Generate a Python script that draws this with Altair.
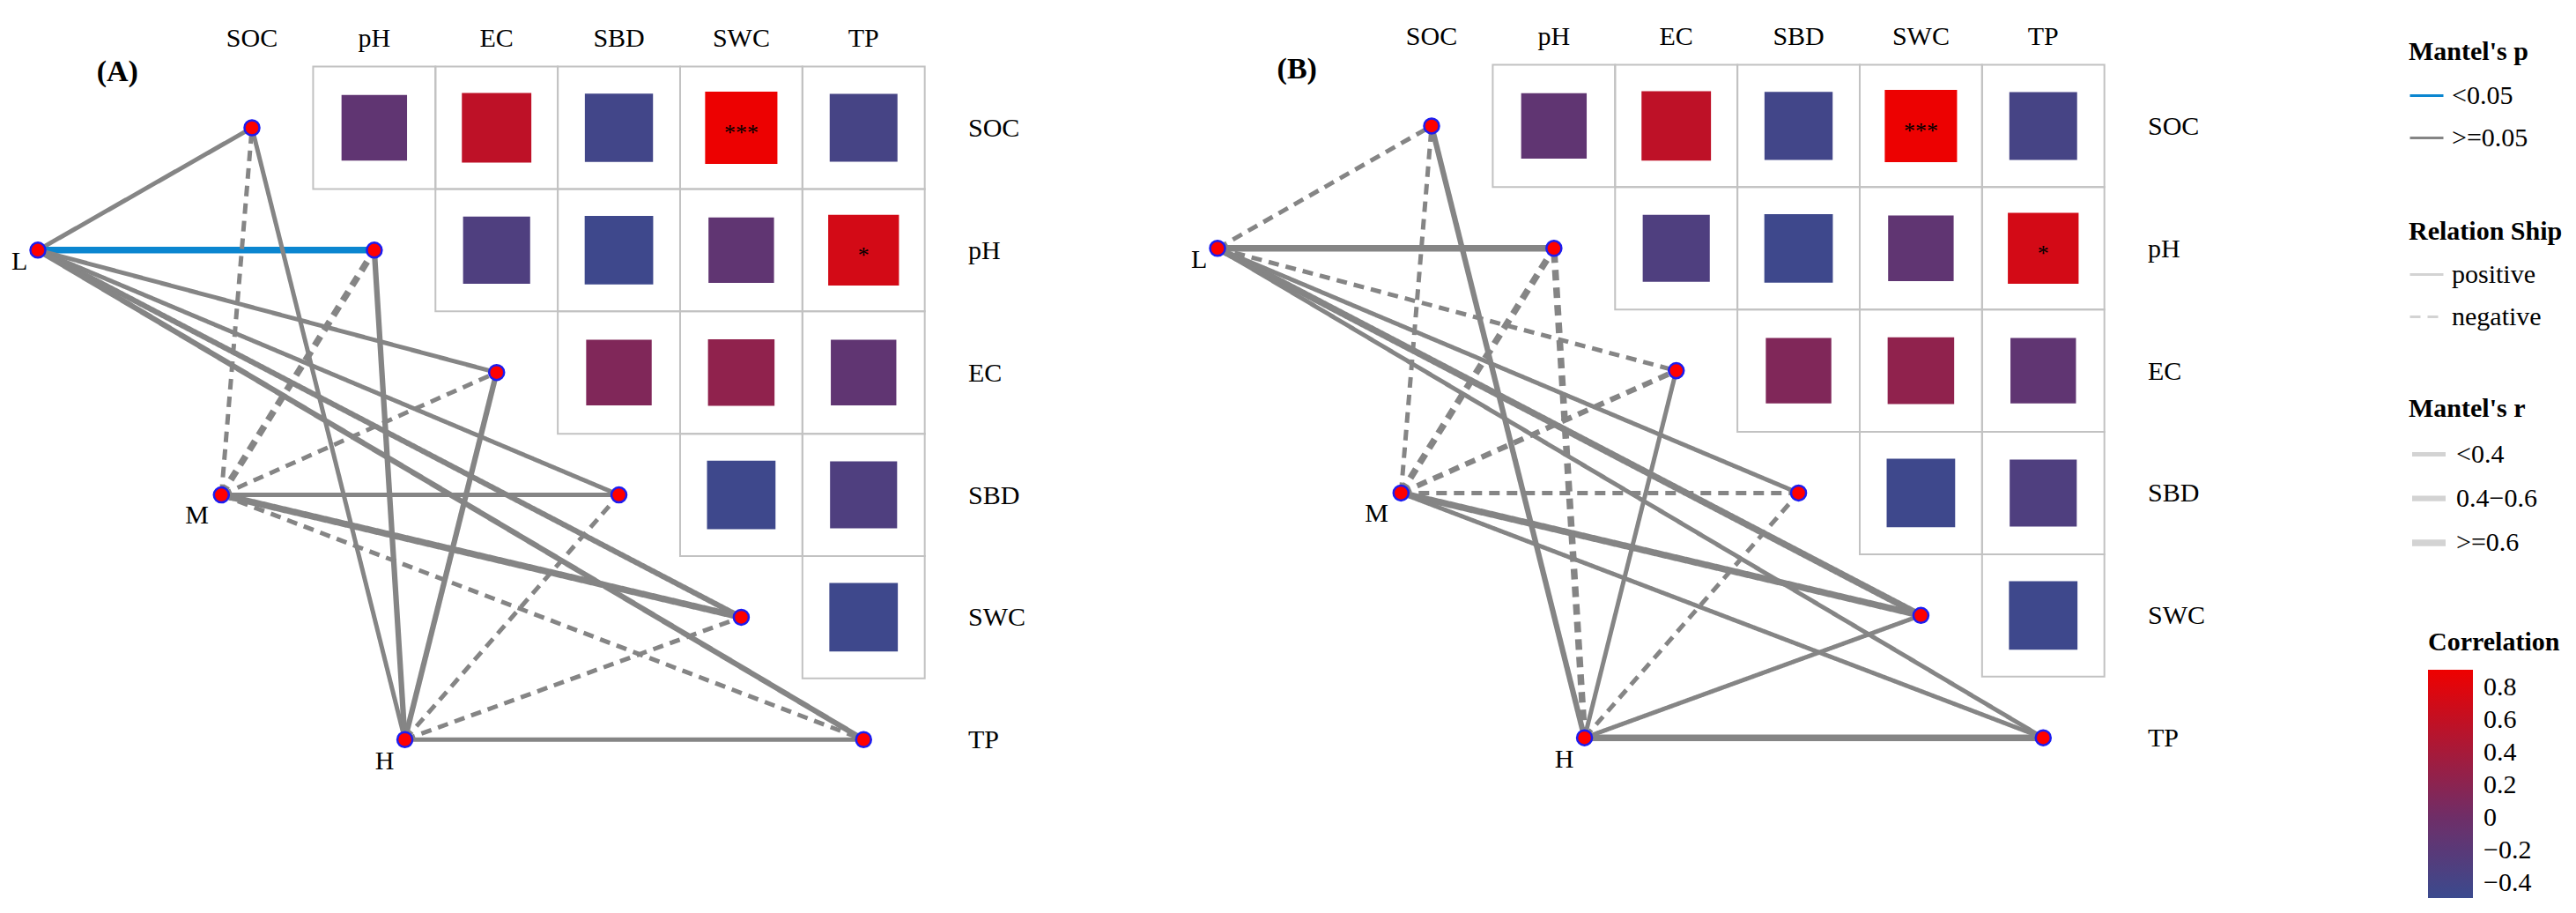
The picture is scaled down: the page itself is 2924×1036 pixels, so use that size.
import altair as alt
import pandas as pd

# ---------------- data ----------------
env_vars = ["SOC", "pH", "EC", "SBD", "SWC", "TP"]
groups = ["L", "M", "H"]
panel_tags = ["(A)", "(B)"]

# correlation between soil properties (upper triangle), same in both panels
corr_row = ["SOC", "SOC", "SOC", "SOC", "SOC", "pH", "pH", "pH", "pH",
            "EC", "EC", "EC", "SBD", "SBD", "SWC"]
corr_col = ["pH", "EC", "SBD", "SWC", "TP", "EC", "SBD", "SWC", "TP",
            "SBD", "SWC", "TP", "SWC", "TP", "TP"]
corr_r = [-0.13, 0.57, -0.42, 0.90, -0.38, -0.30, -0.46, -0.13, 0.72,
          0.13, 0.24, -0.13, -0.46, -0.30, -0.46]
corr_sig = ["", "", "", "***", "", "", "", "", "*", "", "", "", "", "", ""]

# Mantel links: group x soil property
edge_group = ["L"] * 6 + ["M"] * 6 + ["H"] * 6
edge_env = env_vars * 3

a_sign = ["positive", "positive", "positive", "positive", "positive", "positive",
          "negative", "negative", "negative", "positive", "positive", "negative",
          "positive", "positive", "positive", "negative", "negative", "positive"]
a_rcls = ["<0.4", ">=0.6", "<0.4", "<0.4", "0.4\u22120.6", "0.4\u22120.6",
          "<0.4", ">=0.6", "<0.4", "<0.4", ">=0.6", "<0.4",
          "<0.4", "0.4\u22120.6", "0.4\u22120.6", "<0.4", "<0.4", "<0.4"]
a_pcls = [">=0.05", "<0.05"] + [">=0.05"] * 16

b_sign = ["negative", "positive", "negative", "positive", "positive", "positive",
          "negative", "negative", "negative", "negative", "positive", "positive",
          "positive", "negative", "positive", "negative", "positive", "positive"]
b_rcls = ["<0.4", ">=0.6", "<0.4", "<0.4", ">=0.6", "<0.4",
          "<0.4", ">=0.6", "0.4\u22120.6", "<0.4", ">=0.6", "<0.4",
          "0.4\u22120.6", ">=0.6", "<0.4", "<0.4", "<0.4", ">=0.6"]
b_pcls = [">=0.05"] * 18

r_classes = ["<0.4", "0.4\u22120.6", ">=0.6"]
p_classes = ["<0.05", ">=0.05"]
signs = ["positive", "negative"]
legend_ticks = [-0.4, -0.2, 0, 0.2, 0.4, 0.6, 0.8]

# ---------------- layout (grid units) ----------------
STEP = 138.85
W, H = 2908, 1020
X0, Y0 = 278, 137
x_dom = [-X0 / STEP, (W - X0) / STEP]
y_dom = [-Y0 / STEP, (H - Y0) / STEP]
panel_off = {"(A)": (0.0, 0.0), "(B)": (9.6435, -0.015)}
group_pos = {"L": (-1.75, 1.0), "M": (-0.25, 3.0), "H": (1.25, 5.0)}
group_lab = {"L": (-0.15, 0.09), "M": (-0.2, 0.16), "H": (-0.165, 0.17)}
edges_by_panel = {"(A)": (a_sign, a_rcls, a_pcls), "(B)": (b_sign, b_rcls, b_pcls)}

cells, nodes, gnodes, edges, collab, rowlab, tags = [], [], [], [], [], [], []
for p in panel_tags:
    ox, oy = panel_off[p]
    for rn, cn, r, s in zip(corr_row, corr_col, corr_r, corr_sig):
        i, j = env_vars.index(rn), env_vars.index(cn)
        cells.append(dict(x=j + ox, y=i + oy, x1=j + ox - 0.5, x2=j + ox + 0.5,
                          y1=i + oy - 0.5, y2=i + oy + 0.5, r=r, absr=abs(r), sig=s))
    for i, v in enumerate(env_vars):
        nodes.append(dict(x=i + ox, y=i + oy))
        collab.append(dict(x=i + ox, y=-0.735 + oy, t=v))
        rowlab.append(dict(x=5.855 + ox, y=i + oy, t=v))
    for g in groups:
        gx, gy = group_pos[g]
        lx, ly = group_lab[g]
        gnodes.append(dict(x=gx + ox, y=gy + oy, lx=gx + lx + ox, ly=gy + ly + oy, t=g))
    sg, rc, pc = edges_by_panel[p]
    for g, v, s, r, q in zip(edge_group, edge_env, sg, rc, pc):
        gx, gy = group_pos[g]
        i = env_vars.index(v)
        edges.append(dict(x=gx + ox, y=gy + oy, x2=i + ox, y2=i + oy,
                          sign=s, rcls=r, pcls=q))
    tags.append(dict(x=-1.1 + ox, y=-0.45 + oy, t=p))

cells, nodes, gnodes = pd.DataFrame(cells), pd.DataFrame(nodes), pd.DataFrame(gnodes)
edges, collab, rowlab, tags = (pd.DataFrame(edges), pd.DataFrame(collab),
                               pd.DataFrame(rowlab), pd.DataFrame(tags))

xs = alt.Scale(domain=x_dom, nice=False, zero=False)
ys = alt.Scale(domain=y_dom, nice=False, zero=False, reverse=True)
X = alt.X("x:Q", scale=xs, axis=None)
Y = alt.Y("y:Q", scale=ys, axis=None)
FONT = "Liberation Serif"

grid = alt.Chart(cells).mark_rect(fillOpacity=0, stroke="#C2C2C2", strokeWidth=2).encode(
    x=alt.X("x1:Q", scale=xs, axis=None), x2="x2:Q",
    y=alt.Y("y1:Q", scale=ys, axis=None), y2="y2:Q")

squares = alt.Chart(cells).mark_square(opacity=1, strokeWidth=0).encode(
    x=X, y=Y,
    fill=alt.Fill("r:Q",
                  scale=alt.Scale(domain=[-0.49, 0, 0.91], interpolate="rgb",
                                  range=["#3B4A8E", "#6E2E68", "#EE0000"]),
                  legend=alt.Legend(title="Correlation", orient="none", legendX=2748,
                                    legendY=706, direction="vertical",
                                    gradientLength=259, gradientThickness=51,
                                    gradientStrokeWidth=0, values=legend_ticks,
                                    format=".1~f", titlePadding=16, labelOffset=12,
                                    labelOverlap=False)),
    size=alt.Size("absr:Q", scale=alt.Scale(domain=[0, 1], range=[5329, 6889]),
                  legend=None))

stars = alt.Chart(cells).mark_text(font=FONT, fontSize=26, color="black",
                                   baseline="alphabetic", dy=14).encode(
    x=X, y=Y, text="sig:N")

links = alt.Chart(edges).mark_rule().encode(
    x=X, y=Y, x2="x2:Q", y2="y2:Q",
    stroke=alt.Stroke("pcls:N",
                      scale=alt.Scale(domain=p_classes, range=["#0B86D0", "#858585"]),
                      legend=alt.Legend(title="Mantel's p", orient="none", legendX=2726,
                                        legendY=36, direction="vertical",
                                        symbolType="stroke", symbolSize=1444,
                                        symbolStrokeWidth=3, titlePadding=14,
                                        rowPadding=12, labelOffset=8)),
    strokeDash=alt.StrokeDash("sign:N",
                              scale=alt.Scale(domain=signs, range=[[1, 0], [12, 8]]),
                              legend=alt.Legend(title="Relation Ship", orient="none",
                                                legendX=2726, legendY=240,
                                                direction="vertical",
                                                symbolType="stroke", symbolSize=1444,
                                                symbolStrokeWidth=3,
                                                symbolStrokeColor="#D3D3D3",
                                                titlePadding=13, rowPadding=12,
                                                labelOffset=8)),
    strokeWidth=alt.StrokeWidth("rcls:O",
                                scale=alt.Scale(domain=r_classes, range=[5, 7.5, 11.5]),
                                legend=alt.Legend(title="Mantel's r", orient="none",
                                                  legendX=2726, legendY=441,
                                                  direction="vertical",
                                                  symbolType="stroke", symbolSize=1444,
                                                  symbolStrokeColor="#D3D3D3",
                                                  titlePadding=15, rowPadding=12,
                                                  labelOffset=8)))

env_nodes = alt.Chart(nodes).mark_circle(size=290, fill="#FF0000", stroke="#1C1CF0",
                                         strokeWidth=2.5, opacity=1).encode(x=X, y=Y)
grp_nodes = alt.Chart(gnodes).mark_circle(size=290, fill="#FF0000", stroke="#1C1CF0",
                                          strokeWidth=2.5, opacity=1).encode(x=X, y=Y)

grp_text = alt.Chart(gnodes).mark_text(font=FONT, fontSize=30, color="black",
                                       baseline="alphabetic", dy=10).encode(
    x=alt.X("lx:Q", scale=xs, axis=None), y=alt.Y("ly:Q", scale=ys, axis=None), text="t:N")

col_text = alt.Chart(collab).mark_text(font=FONT, fontSize=30, color="black",
                                       baseline="alphabetic", dy=10).encode(
    x=X, y=Y, text="t:N")
row_text = alt.Chart(rowlab).mark_text(font=FONT, fontSize=30, color="black",
                                       align="left", baseline="alphabetic", dy=10).encode(
    x=X, y=Y, text="t:N")
tag_text = alt.Chart(tags).mark_text(font=FONT, fontSize=34, fontWeight="bold",
                                     color="black", baseline="alphabetic", dy=9).encode(
    x=X, y=Y, text="t:N")

chart = alt.layer(grid, squares, stars, links, env_nodes, grp_nodes,
                  grp_text, col_text, row_text, tag_text).properties(
    width=W, height=H, padding=0,
    autosize=alt.AutoSizeParams(type="none"),
).resolve_scale(
    fill="independent"
).configure_view(strokeWidth=0).configure_legend(
    titleFont=FONT, titleFontSize=30, titleFontWeight="bold", titleColor="black",
    labelFont=FONT, labelFontSize=30, labelColor="black", titleLimit=400,
    labelLimit=400, padding=0, symbolBaseStrokeColor="#D3D3D3"
)

chart.save("out.html", embed_options={"renderer": "svg", "actions": False})
